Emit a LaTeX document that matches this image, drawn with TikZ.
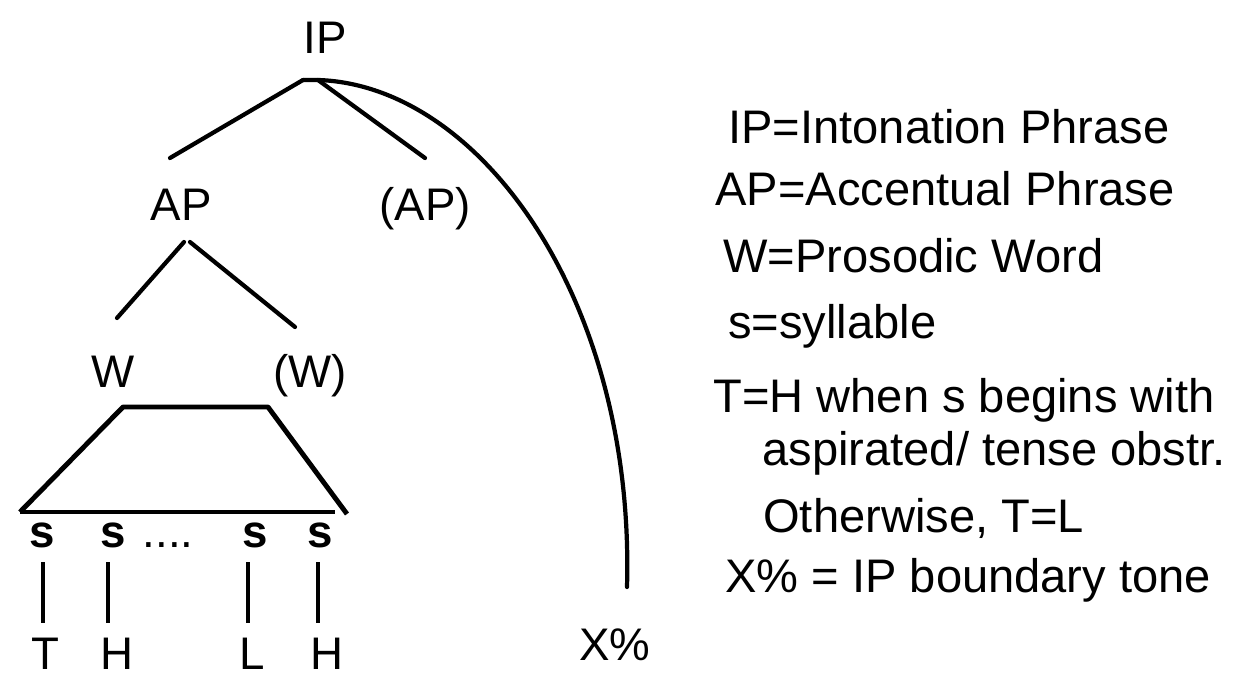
\documentclass[tikz,border=0pt]{standalone}
\usepackage{fontspec}
\setmainfont{Liberation Sans}
\usetikzlibrary{positioning, calc}
\tikzset{
    lbl/.style = {font=\fontsize{26}{30}\selectfont, inner sep=0pt, anchor=base}, % tree labels sit on their baseline
    syl/.style = {lbl, font=\fontsize{26}{30}\selectfont\bfseries},
    key/.style = {lbl, anchor=base west, font=\fontsize{26.8}{30}\selectfont}, % legend lines on the right
    branch/.style = {line width=2.4pt, line cap=round},
    foot/.style = {line width=2.8pt, line join=round},
    stem/.style = {line width=2pt}
}
\begin{document}
\begin{tikzpicture}[x=0.02cm, y=-0.02cm]
\useasboundingbox (0,0) rectangle (1244,680);
% labels of the tree
\node[lbl] (ip) at (325,53) {IP};
\node[lbl] (ap) at (181,220) {AP};
\node[lbl] (apx) at (425,220) {(AP)};
\node[lbl] (w) at (113,387) {W};
\node[lbl] (wx) at (310,387) {(W)};
\foreach \n/\x in {1/42,2/113,3/255,4/320}
    \node[syl] (s\n) at (\x,547) {s};
\node[lbl] (dots) at (168,547) {....};
\node[lbl] (t1) at (45,669) {T};
\node[lbl] (t2) at (117,669) {H};
\node[lbl] (t3) at (252,669) {L};
\node[lbl] (t4) at (327,669) {H};
\node[lbl] (xp) at (615,660) {X\%};
% joints
\coordinate (ip-foot) at (303,80);
\coordinate (ip-footr) at (318,80);
\coordinate (ap-head) at (170,158);
\coordinate (apx-head) at (425,158);
\coordinate (ap-foot) at (184,242);
\coordinate (w-head) at (117,318);
\coordinate (wx-head) at (295,327);
\coordinate (xp-head) at (627,587);
\coordinate (w-foot) at (123,407);
\coordinate (wx-foot) at (268,407);
\coordinate (trap-l) at (20,512);
\coordinate (trap-r) at (347,514);
\coordinate (trap-b) at (335,512);
\draw[branch] (ip-foot) -- (ap-head);
\draw[branch] (ip-footr) -- (apx-head);
\draw[branch] (ip-foot) -- (ip-footr) .. controls (480,85) and (635,300) .. (xp-head);
\draw[branch] (ap-foot) -- (w-head);
\draw[branch] ([xshift=0.12cm]ap-foot) -- (wx-head);
% the W span over its syllables
\draw[foot] (trap-l) -- (w-foot) -- (wx-foot) -- (trap-r);
\draw[foot] (trap-l) -- (trap-b);
% syllable to tone
\foreach \n/\x in {1/43,2/108,3/248,4/318} {
    \coordinate (top\n) at (\x,562);
    \coordinate (bot\n) at (\x,623);
    \draw[stem] (top\n) -- (bot\n);
}
% legend
\node[key] (k1) at (728,143) {IP=Intonation Phrase};
\node[key] (k2) at (715,205) {AP=Accentual Phrase};
\node[key] (k3) at (723,272) {W=Prosodic Word};
\node[key] (k4) at (728,338) {s=syllable};
\node[key] (k5) at (713,412) {T=H when s begins with};
\node[key] (k6) at (762,465) {aspirated/ tense obstr.};
\node[key] (k7) at (763,532) {Otherwise, T=L};
\node[key] (k8) at (725,592) {X\% = IP boundary tone};
\end{tikzpicture}
\end{document}
